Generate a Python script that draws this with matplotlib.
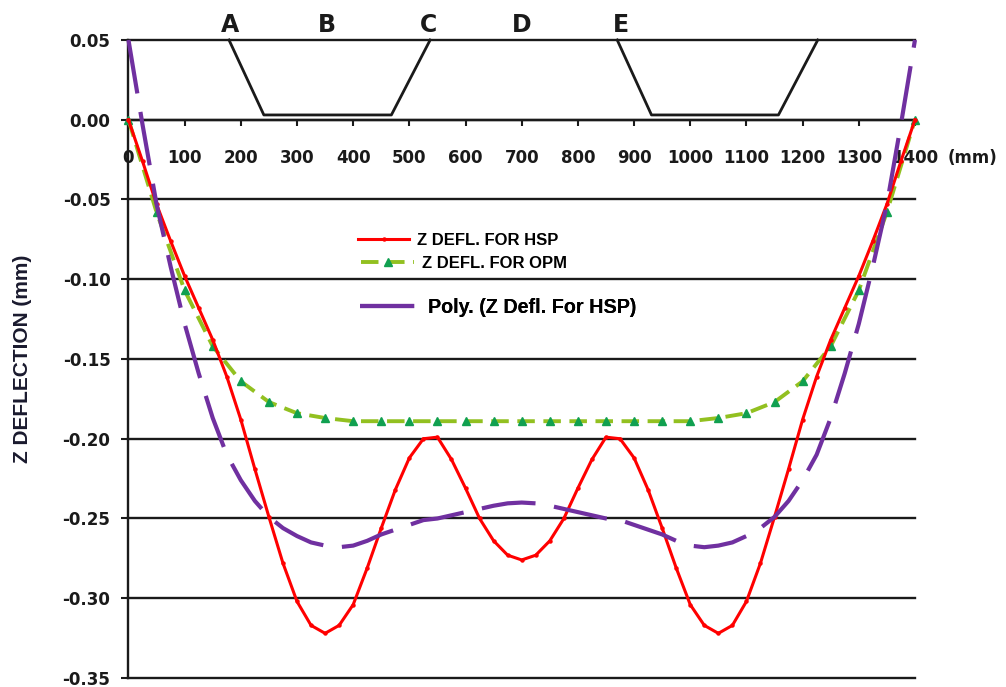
import numpy as np
import matplotlib.pyplot as plt

# deflection along the panel (mm)
x_hsp = np.arange(0, 1401, 25)
z_hsp = [0.000, -0.026, -0.053, -0.076, -0.098, -0.118, -0.138, -0.161,
         -0.188, -0.219, -0.249, -0.278, -0.302, -0.317, -0.322, -0.317,
         -0.304, -0.281, -0.256, -0.232, -0.212, -0.200, -0.199, -0.213,
         -0.231, -0.250, -0.264, -0.273, -0.276, -0.273, -0.264, -0.250,
         -0.231, -0.213, -0.199, -0.200, -0.212, -0.232, -0.256, -0.281,
         -0.304, -0.317, -0.322, -0.317, -0.302, -0.278, -0.249, -0.219,
         -0.188, -0.161, -0.138, -0.118, -0.098, -0.076, -0.053, -0.026,
         0.000]

x_opm = np.arange(0, 1401, 50)
z_opm = [0.000, -0.058, -0.107, -0.142, -0.164, -0.177, -0.184, -0.187,
         -0.189, -0.189, -0.189, -0.189, -0.189, -0.189, -0.189, -0.189,
         -0.189, -0.189, -0.189, -0.189, -0.189, -0.187, -0.184, -0.177,
         -0.164, -0.142, -0.107, -0.058, 0.000]

# polynomial trend line of HSP
z_poly = [0.050, -0.003, -0.053, -0.092, -0.128, -0.159, -0.187, -0.210,
          -0.226, -0.239, -0.249, -0.256, -0.261, -0.265, -0.267, -0.268,
          -0.267, -0.264, -0.260, -0.257, -0.254, -0.251, -0.250, -0.248,
          -0.246, -0.244, -0.242, -0.2405, -0.240, -0.2405, -0.242, -0.244,
          -0.246, -0.248, -0.250, -0.251, -0.254, -0.257, -0.260, -0.264,
          -0.267, -0.268, -0.267, -0.265, -0.261, -0.256, -0.249, -0.239,
          -0.226, -0.210, -0.187, -0.159, -0.128, -0.092, -0.053, -0.003,
          0.050]

# panel cross-section sketch on top
profile_x1 = [179, 241, 468, 537]
profile_x2 = [870, 931, 1157, 1227]
profile_y = [0.05, 0.003, 0.003, 0.05]
section_labels = ["A", "B", "C", "D", "E"]
section_x = [181, 353, 534, 700, 877]

y_ticks = [0.05, 0.00, -0.05, -0.10, -0.15, -0.20, -0.25, -0.30, -0.35]
y_tick_labels = ["0.05", "0.00", "-0.05", "-0.10", "-0.15", "-0.20",
                 "-0.25", "-0.30", "-0.35"]
x_ticks = list(range(0, 1401, 100))

ink = "#1a1a1a"
tick_font = dict(family="DejaVu Sans", weight="bold", size=12)

fig = plt.figure(figsize=(10.06, 6.87), dpi=100)
ax = fig.add_axes([0.1277, 0.0131, 0.7818, 0.9287])
ax.set_xlim(0, 1400)
ax.set_ylim(-0.35, 0.05)

for yv in y_ticks:
    ax.axhline(yv, color=ink, lw=1.7, zorder=1, clip_on=False)

ax.plot(profile_x1, profile_y, color=ink, lw=2.0, zorder=2, clip_on=False)
ax.plot(profile_x2, profile_y, color=ink, lw=2.0, zorder=2, clip_on=False)
for lbl, xs in zip(section_labels, section_x):
    ax.text(xs, 0.0594, lbl, ha="center", va="center", fontsize=17,
            family="DejaVu Sans", fontweight="bold", color=ink)

h_hsp, = ax.plot(x_hsp, z_hsp, color="#ff0000", lw=2.2, marker="o", ms=2.2,
                 zorder=4, clip_on=False)
h_opm, = ax.plot(x_opm, z_opm, color="#92c020", lw=2.8, dashes=(4.5, 2.2),
                 marker="^", ms=6, mfc="#10a050", mec="#10a050", zorder=3,
                 clip_on=False)
h_poly, = ax.plot(x_hsp, z_poly, color="#7030a0", lw=3.0, dashes=(13, 4.5),
                  zorder=5, clip_on=False)

ax.spines["top"].set_visible(False)
ax.spines["right"].set_visible(False)
ax.spines["bottom"].set_position(("data", 0))
ax.spines["bottom"].set_linewidth(1.7)
ax.spines["left"].set_linewidth(1.7)
ax.spines["bottom"].set_color(ink)
ax.spines["left"].set_color(ink)

ax.set_yticks(y_ticks, y_tick_labels, **tick_font)
ax.set_xticks(x_ticks, [str(v) for v in x_ticks], **tick_font)
ax.tick_params(axis="y", direction="out", length=5, width=1.5, pad=8,
               colors=ink)
ax.tick_params(axis="x", direction="out", length=4, width=1.5, pad=17,
               colors=ink)
ax.text(1459, -0.0238, "(mm)", ha="left", va="center", color=ink,
        **tick_font)

ax.set_ylabel("Z DEFLECTION (mm)", fontsize=15, fontweight="bold",
              family="Liberation Sans", color="#1a1a2e")
ax.yaxis.set_label_coords(-0.1227, 0.5)

legend_rows = [
    (h_hsp, "Z DEFL. FOR HSP", 408, -0.0757, 12, 3.1),
    (h_opm, "Z DEFL. FOR OPM", 414, -0.0901, 12, 3.2),
    (h_poly, "Poly. (Z Defl. For HSP)", 412, -0.1176, 14.2, 3.0),
]
for handle, text, lx, ly, fs, hl in legend_rows:
    leg = ax.legend(handles=[handle], labels=[text], loc="center left",
                    bbox_to_anchor=(lx, ly), bbox_transform=ax.transData,
                    frameon=False, borderpad=0, borderaxespad=0,
                    handlelength=hl, handletextpad=0.45,
                    prop=dict(family="Liberation Sans", weight="bold", size=fs))
    ax.add_artist(leg)

fig.savefig("out.png", dpi=100)
